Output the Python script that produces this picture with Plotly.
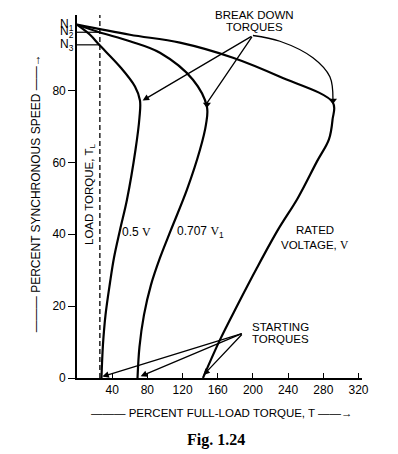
import plotly.graph_objects as go

# ---------------- data ----------------
# Rated voltage V : torque (% full load) vs speed (% synchronous)
rated_torque = [0, 60.2, 117, 177.3, 230.7, 291, 290.5, 286.4, 272.7, 251.1, 228.4, 204.5, 182.5, 162.5, 143.2]
rated_speed = [98.3, 95.5, 93.3, 89.1, 83.8, 76.6, 71.9, 66.4, 60.2, 50.1, 41.2, 30.6, 20.3, 10.6, 0]

# 0.707 V1
v707_torque = [0, 25.3, 60.2, 94.3, 131.8, 147.7, 146.6, 139.8, 125, 106.8, 94.3, 84.1, 76.1, 71, 68.8]
v707_speed = [98.3, 96.2, 93.7, 90.5, 83.0, 75.5, 70.5, 63.5, 52.4, 41.2, 33.4, 25.9, 17.5, 8.6, 0]

# 0.5 V
v05_torque = [0, 14.8, 25.3, 48.9, 65.9, 71.6, 71.0, 66.5, 56.8, 48.9, 42, 37.5, 32.4, 29.5, 27.8]
v05_speed = [98.3, 95.5, 92.7, 86.6, 81.1, 77.2, 72.4, 63.5, 49.6, 41.2, 33.4, 26.5, 17.5, 9.2, 0]

load_torque = 26
speed_levels = {"N<sub>1</sub>": 98.3, "N<sub>2</sub>": 96.2, "N<sub>3</sub>": 92.7}

x_ticks = [40, 80, 120, 160, 200, 240, 280, 320]
y_ticks = [0, 20, 40, 60, 80]

X_MAX, Y_MAX = 324, 101

SANS = "Liberation Sans, Arial, sans-serif"
SERIF = "Liberation Serif, Times New Roman, serif"


def breakdown(t, s):
    i = max(range(len(t)), key=lambda k: t[k])
    return t[i], s[i]


bd_rated = breakdown(rated_torque, rated_speed)
bd_707 = breakdown(v707_torque, v707_speed)
bd_05 = breakdown(v05_torque, v05_speed)

fig = go.Figure()

line_style = dict(color="black", width=2.2, shape="spline", smoothing=1.0)
for t, s in [(rated_torque, rated_speed), (v707_torque, v707_speed), (v05_torque, v05_speed)]:
    fig.add_trace(go.Scatter(x=t, y=s, mode="lines", line=line_style, hoverinfo="skip"))

# load torque dashed line
fig.add_trace(go.Scatter(x=[load_torque, load_torque], y=[0, Y_MAX], mode="lines",
                         line=dict(color="black", width=1.3, dash="5px,3px"), hoverinfo="skip"))

# N2, N3 horizontal lines
for name in ["N<sub>2</sub>", "N<sub>3</sub>"]:
    v = speed_levels[name]
    fig.add_trace(go.Scatter(x=[0, load_torque], y=[v, v], mode="lines",
                             line=dict(color="black", width=1.2), hoverinfo="skip"))

# curved pointer to rated breakdown
apex_bd = (200, 95.3)
curve_x = [apex_bd[0], 230.7, 268.2, 287.5, bd_rated[0]]
curve_y = [apex_bd[1], 93.7, 89.1, 83.8, bd_rated[1] + 0.8]
fig.add_trace(go.Scatter(x=curve_x, y=curve_y, mode="lines",
                         line=dict(color="black", width=1.3, shape="spline", smoothing=1.0),
                         hoverinfo="skip"))
# breakdown arrowhead markers
fig.add_trace(go.Scatter(x=[bd_rated[0], bd_707[0]], y=[bd_rated[1] + 0.6, bd_707[1] + 0.6],
                         mode="markers",
                         marker=dict(symbol="triangle-down", size=7, color="black"),
                         hoverinfo="skip"))

ann = []
arrow = dict(showarrow=True, arrowhead=2, arrowsize=1, arrowwidth=1.3, arrowcolor="black",
             axref="x", ayref="y", xref="x", yref="y", text="", standoff=0)
# breakdown straight pointers
ann.append(dict(arrow, x=bd_707[0], y=bd_707[1] + 1.0, ax=apex_bd[0], ay=apex_bd[1], arrowhead=0))
ann.append(dict(arrow, x=bd_05[0] + 3, y=bd_05[1], ax=apex_bd[0], ay=apex_bd[1]))
# starting torque pointers
apex_st = (189, 12.5)
ann.append(dict(arrow, x=v05_torque[-1] + 1, y=0.4, ax=apex_st[0], ay=apex_st[1]))
ann.append(dict(arrow, x=v707_torque[-1] + 3.5, y=0.5, ax=apex_st[0], ay=apex_st[1]))
ann.append(dict(arrow, x=rated_torque[-1] + 0.5, y=0.8, ax=apex_st[0], ay=apex_st[1]))


def txt(x, y, text, size=11.5, yref="y", **kw):
    d = dict(x=x, y=y, xref="x", yref=yref, text=text, showarrow=False,
             xanchor="center", yanchor="middle",
             font=dict(family=SANS, size=size, color="black"))
    d.update(kw)
    return d


V_SERIF = '<span style="font-family:Liberation Serif">V</span>'
ann.append(txt(202.3, 1.0, "BREAK DOWN", yref="paper"))
ann.append(txt(202.3, 0.968, "TORQUES", yref="paper"))
ann.append(txt(196.6, 14.2, "STARTING", xanchor="left"))
ann.append(txt(196.6, 10.9, "TORQUES", xanchor="left"))
ann.append(txt(270.5, 41.2, "RATED"))
ann.append(txt(270.5, 37.0, "VOLTAGE, " + V_SERIF))
ann.append(txt(68.2, 40.7, "0.5 " + V_SERIF, size=12))
ann.append(txt(140.3, 40.7, "0.707 " + V_SERIF + "<sub>1</sub>", size=12))
ann.append(txt(14.8, 51.2, "LOAD TORQUE, T<sub>L</sub>", textangle=-90))

for name, v in speed_levels.items():
    ann.append(dict(x=0, y=v, xref="paper", yref="y", text=name, showarrow=False,
                    xanchor="right", yanchor="middle", xshift=-1,
                    font=dict(family=SANS, size=12, color="black")))

# axis titles and caption
ann.append(dict(x=0.5, y=-0.0964, xref="paper", yref="paper", xanchor="center", yanchor="middle",
                text="——— PERCENT FULL-LOAD TORQUE, T ——→", showarrow=False, xshift=2,
                font=dict(family=SANS, size=11.5, color="black")))
ann.append(dict(x=-0.145, y=0.5, xref="paper", yref="paper", xanchor="center", yanchor="middle",
                text="——— PERCENT SYNCHRONOUS SPEED ——→", showarrow=False, textangle=-90, yshift=3,
                font=dict(family=SANS, size=12, color="black")))
ann.append(dict(x=0.488, y=-0.171, xref="paper", yref="paper", xanchor="center", yanchor="middle",
                text="<b>Fig. 1.24</b>", showarrow=False,
                font=dict(family=SERIF, size=16, color="black")))

# the page body adds an 8px margin at top/left, so the figure is 8px smaller
fig.update_layout(
    width=390, height=446,
    margin=dict(l=69, r=36, t=7, b=76),
    paper_bgcolor="white", plot_bgcolor="white",
    showlegend=False,
    annotations=ann,
    font=dict(family=SANS, size=12, color="black"),
    xaxis=dict(range=[0, X_MAX], tickvals=x_ticks, ticks="inside", ticklen=5, tickwidth=1.2,
               tickcolor="black", showline=True, linecolor="black", linewidth=1.6,
               showgrid=False, zeroline=False, tickfont=dict(family=SANS, size=12)),
    yaxis=dict(range=[0, Y_MAX], tickvals=y_ticks, ticks="outside", ticklen=7, tickwidth=1.2,
               tickcolor="black", showline=True, linecolor="black", linewidth=1.6,
               showgrid=False, zeroline=False, tickfont=dict(family=SANS, size=12)),
)

fig.write_html("out.html")
